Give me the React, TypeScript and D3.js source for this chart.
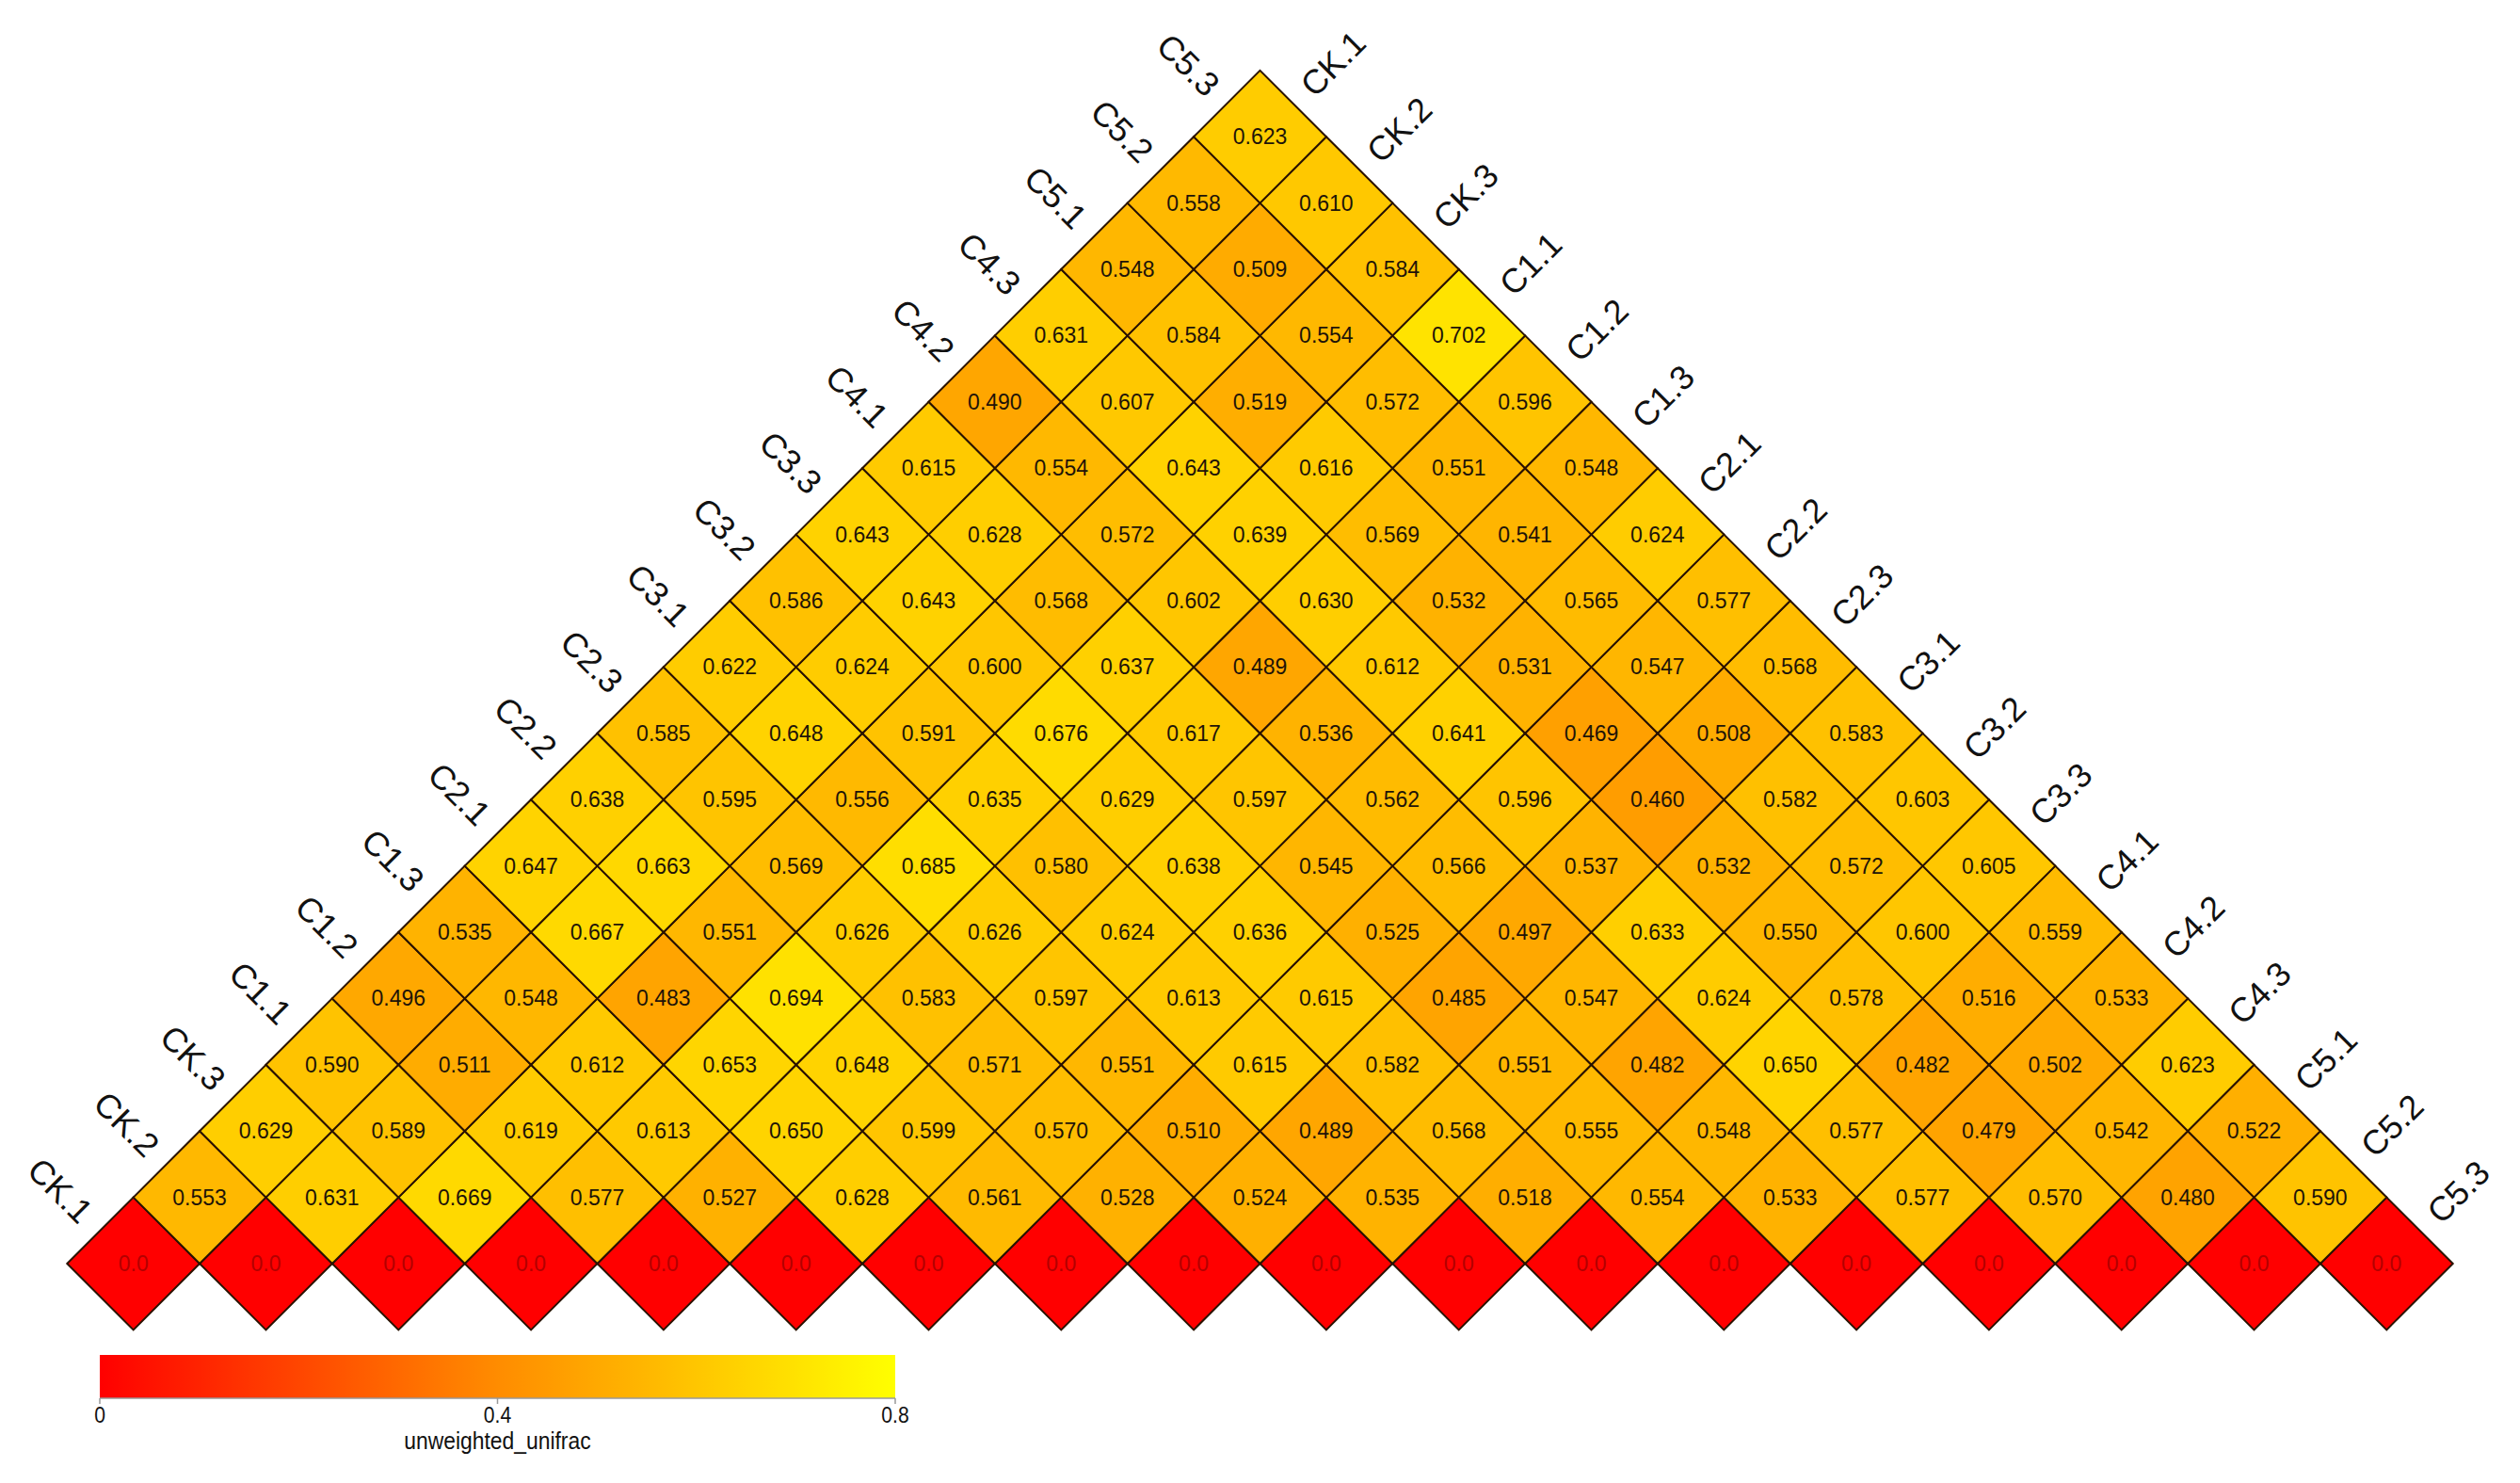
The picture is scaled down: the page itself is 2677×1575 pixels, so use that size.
import React from "react";
import * as d3 from "d3";

// sample order (left edge bottom->top, right edge top->bottom)
const samples = [
  "CK.1", "CK.2", "CK.3", "C1.1", "C1.2", "C1.3", "C2.1", "C2.2", "C2.3",
  "C3.1", "C3.2", "C3.3", "C4.1", "C4.2", "C4.3", "C5.1", "C5.2", "C5.3",
];

// distances by diagonal band: bandK[i] = dist(sample i, sample i+K)
const band1 = [0.553, 0.631, 0.669, 0.577, 0.527, 0.628, 0.561, 0.528, 0.524, 0.535, 0.518, 0.554, 0.533, 0.577, 0.570, 0.480, 0.590];
const band2 = [0.629, 0.589, 0.619, 0.613, 0.650, 0.599, 0.570, 0.510, 0.489, 0.568, 0.555, 0.548, 0.577, 0.479, 0.542, 0.522];
const band3 = [0.590, 0.511, 0.612, 0.653, 0.648, 0.571, 0.551, 0.615, 0.582, 0.551, 0.482, 0.650, 0.482, 0.502, 0.623];
const band4 = [0.496, 0.548, 0.483, 0.694, 0.583, 0.597, 0.613, 0.615, 0.485, 0.547, 0.624, 0.578, 0.516, 0.533];
const band5 = [0.535, 0.667, 0.551, 0.626, 0.626, 0.624, 0.636, 0.525, 0.497, 0.633, 0.550, 0.600, 0.559];
const band6 = [0.647, 0.663, 0.569, 0.685, 0.580, 0.638, 0.545, 0.566, 0.537, 0.532, 0.572, 0.605];
const band7 = [0.638, 0.595, 0.556, 0.635, 0.629, 0.597, 0.562, 0.596, 0.460, 0.582, 0.603];
const band8 = [0.585, 0.648, 0.591, 0.676, 0.617, 0.536, 0.641, 0.469, 0.508, 0.583];
const band9 = [0.622, 0.624, 0.600, 0.637, 0.489, 0.612, 0.531, 0.547, 0.568];
const band10 = [0.586, 0.643, 0.568, 0.602, 0.630, 0.532, 0.565, 0.577];
const band11 = [0.643, 0.628, 0.572, 0.639, 0.569, 0.541, 0.624];
const band12 = [0.615, 0.554, 0.643, 0.616, 0.551, 0.548];
const band13 = [0.490, 0.607, 0.519, 0.572, 0.596];
const band14 = [0.631, 0.584, 0.554, 0.702];
const band15 = [0.548, 0.509, 0.584];
const band16 = [0.558, 0.610];
const band17 = [0.623];

const legendTicks = [0, 0.4, 0.8];
const legendTitle = "unweighted_unifrac";

const bands = [
  samples.map(() => 0),
  band1, band2, band3, band4, band5, band6, band7, band8, band9,
  band10, band11, band12, band13, band14, band15, band16, band17,
];

const W = 2677;
const H = 1575;
const half = 70.4; // half diagonal of a diamond
const n = samples.length;

const color = d3
  .scaleLinear<string>()
  .domain([0, 0.4, 0.8])
  .range(["#ff0000", "#ff8c00", "#ffff00"])
  .clamp(true);

// position along the bottom (in units of samples) -> px
const xPos = d3.scaleLinear().domain([0, n - 1]).range([141.7, 141.7 + (n - 1) * 2 * half]);
// band offset -> px
const yPos = d3.scaleLinear().domain([0, n - 1]).range([1342, 1342 - (n - 1) * half]);

const legendX = d3.scaleLinear().domain([0, 0.8]).range([106, 951]);

export default function App() {
  const cells: { i: number; j: number; v: number }[] = [];
  bands.forEach((band, k) => {
    band.forEach((v, i) => cells.push({ i, j: i + k, v }));
  });

  const labelFont = "'Liberation Sans', Arial, Helvetica, sans-serif";
  const off = 20 / Math.SQRT2;

  const gradStops = d3.range(0, 0.8001, 0.05);

  return (
    <div style={{ position: "absolute", left: 0, top: 0 }}>
      <svg width={W} height={H} style={{ display: "block", background: "#fff" }}>
        <defs>
          <linearGradient id="legendGrad" x1="0" x2="1" y1="0" y2="0">
            {gradStops.map((s) => (
              <stop key={s} offset={s / 0.8} stopColor={color(s)} />
            ))}
          </linearGradient>
        </defs>

        {/* diamonds */}
        <g>
          {cells.map((c) => {
            const cx = xPos((c.i + c.j) / 2);
            const cy = yPos(c.j - c.i);
            const pts = [
              [cx - half, cy],
              [cx, cy - half],
              [cx + half, cy],
              [cx, cy + half],
            ]
              .map((p) => p.join(","))
              .join(" ");
            return (
              <polygon
                key={`${c.i}-${c.j}`}
                points={pts}
                fill={color(c.v)}
                stroke="#2a1200"
                strokeWidth={2}
              />
            );
          })}
        </g>

        {/* values */}
        <g fontFamily={labelFont} fontSize={23} textAnchor="middle">
          {cells.map((c) => {
            const diag = c.i === c.j;
            return (
              <text
                key={`t${c.i}-${c.j}`}
                x={xPos((c.i + c.j) / 2)}
                y={yPos(c.j - c.i)}
                dominantBaseline="central"
                fill={diag ? "#b30000" : "#1e1408"}
              >
                {diag ? "0.0" : c.v.toFixed(3)}
              </text>
            );
          })}
        </g>

        {/* left edge labels */}
        <g fontFamily={labelFont} fontSize={36} fill="#111">
          {samples.map((s, j) => {
            const cx = xPos(j / 2);
            const cy = yPos(j);
            const lx = cx - half / 2 - off;
            const ly = cy - half / 2 - off;
            return (
              <text
                key={`l${s}`}
                transform={`translate(${lx},${ly}) rotate(45)`}
                textAnchor="end"
                dominantBaseline="central"
              >
                {s}
              </text>
            );
          })}
        </g>

        {/* right edge labels */}
        <g fontFamily={labelFont} fontSize={36} fill="#111">
          {samples.map((s, i) => {
            const cx = xPos((i + n - 1) / 2);
            const cy = yPos(n - 1 - i);
            const lx = cx + half / 2 + off;
            const ly = cy - half / 2 - off;
            return (
              <text
                key={`r${s}`}
                transform={`translate(${lx},${ly}) rotate(-45)`}
                textAnchor="start"
                dominantBaseline="central"
              >
                {s}
              </text>
            );
          })}
        </g>

        {/* legend */}
        <g>
          <rect
            x={legendX(0)}
            y={1439}
            width={legendX(0.8) - legendX(0)}
            height={46}
            fill="url(#legendGrad)"
          />
          <line x1={legendX(0)} x2={legendX(0.8)} y1={1485} y2={1485} stroke="#999" strokeWidth={1.5} />
          {legendTicks.map((t) => (
            <g key={`lt${t}`}>
              <line x1={legendX(t)} x2={legendX(t)} y1={1485} y2={1491} stroke="#999" strokeWidth={1.5} />
              <text
                transform={`translate(${legendX(t)},1503) scale(0.88,1)`}
                textAnchor="middle"
                dominantBaseline="central"
                fontFamily={labelFont}
                fontSize={24}
                fill="#111"
              >
                {t === 0 ? "0" : t.toString()}
              </text>
            </g>
          ))}
          <text
            transform={`translate(${legendX(0.4)},1530) scale(0.88,1)`}
            textAnchor="middle"
            dominantBaseline="central"
            fontFamily={labelFont}
            fontSize={26}
            fill="#111"
          >
            {legendTitle}
          </text>
        </g>
      </svg>
    </div>
  );
}
